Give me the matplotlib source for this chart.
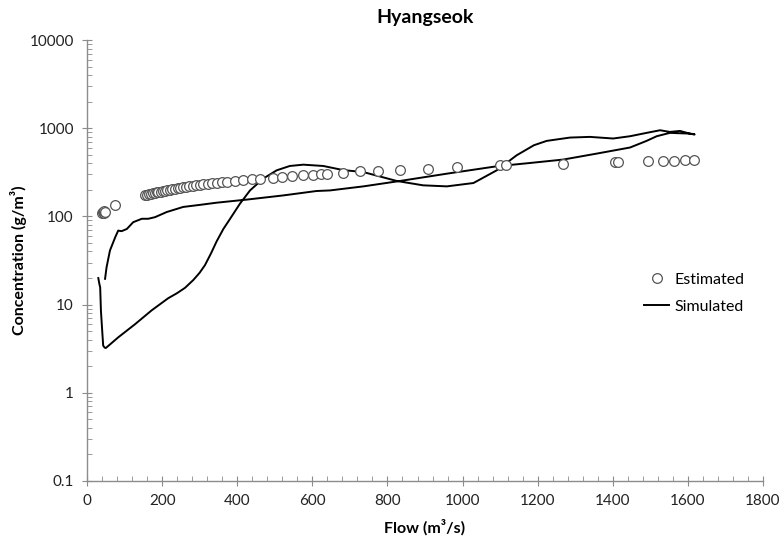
import matplotlib
matplotlib.use("Agg")
import matplotlib.pyplot as plt
from matplotlib.ticker import FixedLocator, MultipleLocator, LogLocator, NullFormatter, FuncFormatter

plt.rcParams['font.family'] = ['Lato', 'DejaVu Sans']

# estimated points (flow m3/s, concentration g/m3)
est_flow = [40, 42, 44, 46, 48, 75,
            155, 160, 165, 170, 175, 180, 185, 190, 196, 202, 208, 214, 220, 227,
            234, 241, 248, 256, 264, 272, 281, 290, 300, 310, 321, 333, 346, 360,
            372, 394, 416, 438, 461, 496, 518, 545, 576, 602, 622, 638, 682, 727,
            776, 833, 909, 984, 1100, 1115, 1268, 1406, 1415, 1494, 1533, 1563,
            1592, 1616]
est_conc = [108, 112, 110, 114, 111, 133,
            175, 177, 179, 181, 183, 185, 187, 189, 191, 193, 196, 198, 200, 203,
            205, 208, 210, 213, 216, 219, 222, 225, 228, 231, 235, 238, 242, 245,
            248, 252, 260, 263, 268, 272, 277, 285, 293, 298, 300, 306, 314, 325,
            330, 340, 348, 360, 378, 380, 395, 412, 415, 422, 425, 428,
            432, 433]

# simulated loop: rising limb then falling limb
sim_flow = [30, 33, 35, 37, 41, 43, 47, 50, 60, 83, 128, 172, 216, 240, 261, 283,
            300, 314, 330, 345, 363, 381, 407, 434, 469, 505, 540, 576, 629, 682,
            736, 825, 895, 958, 1029, 1091, 1144, 1190, 1224, 1286, 1339, 1401,
            1446, 1490, 1526, 1552, 1579, 1600, 1618,
            1600, 1552, 1517, 1490, 1446, 1357, 1268, 1179, 1091, 958, 833, 736,
            647, 611, 523, 425, 345, 300, 256, 212, 181, 163, 146, 123, 106, 92,
            83, 75, 61, 52, 48]
sim_conc = [20, 17, 15.7, 8.5, 4.6, 3.42, 3.25, 3.22, 3.5, 4.25, 6.0, 8.6, 11.8,
            13.5, 15.5, 19, 23, 28, 38, 52, 72, 94, 139, 197, 268, 333, 373, 386,
            373, 335, 318, 252, 225, 219, 239, 333, 493, 641, 718, 783, 797, 764,
            811, 885, 948, 907, 931, 880, 850,
            870, 885, 811, 718, 604, 515, 441, 403, 370, 305, 252, 219,
            197, 194, 173, 155, 143, 135, 128, 112, 98, 94, 94, 86, 72, 68,
            69, 58, 41, 26.5, 19.6]

fig = plt.figure(figsize=(7.82, 5.48), dpi=100)
ax = fig.add_axes([0.1113, 0.1223, 0.8644, 0.8047])

ax.plot(est_flow, est_conc, linestyle='none', marker='o', markersize=7,
        markerfacecolor='white', markeredgecolor='#555555', markeredgewidth=0.9,
        label='Estimated', zorder=3)
ax.plot(sim_flow, sim_conc, color='black', linewidth=1.4, label='Simulated', zorder=2)

ax.set_yscale('log')
ax.set_ylim(0.1, 10000)
ax.set_xlim(0, 1800)

ax.xaxis.set_major_locator(MultipleLocator(200))
ax.xaxis.set_minor_locator(MultipleLocator(40))
ax.yaxis.set_major_locator(FixedLocator([0.1, 1, 10, 100, 1000, 10000]))
ax.yaxis.set_minor_locator(LogLocator(base=10, subs=range(2, 10)))
ax.yaxis.set_minor_formatter(NullFormatter())
ax.yaxis.set_major_formatter(FuncFormatter(lambda v, p: f"{v:g}"))

for side in ['top', 'right']:
    ax.spines[side].set_visible(False)
for side in ['left', 'bottom']:
    ax.spines[side].set_color('#8c8c8c')
    ax.spines[side].set_linewidth(1.0)

ax.tick_params(which='major', direction='inout', length=7, color='#8c8c8c',
               labelsize=11, labelcolor='#222222', pad=6)
ax.tick_params(which='minor', direction='in', length=3.5, color='#8c8c8c')

ax.set_title('Hyangseok', fontsize=14, fontweight='bold', pad=12)
ax.set_xlabel('Flow (m³/s)', fontsize=11.5, fontweight='bold', labelpad=8)
ax.set_ylabel('Concentration (g/m³)', fontsize=11.5, fontweight='bold', labelpad=2)

ax.legend(loc='center left', bbox_to_anchor=(0.805, 0.465), bbox_transform=fig.transFigure,
          frameon=False, fontsize=11.5, handlelength=1.6, handletextpad=0.3,
          labelspacing=0.8)

fig.savefig('out.png', dpi=100)
